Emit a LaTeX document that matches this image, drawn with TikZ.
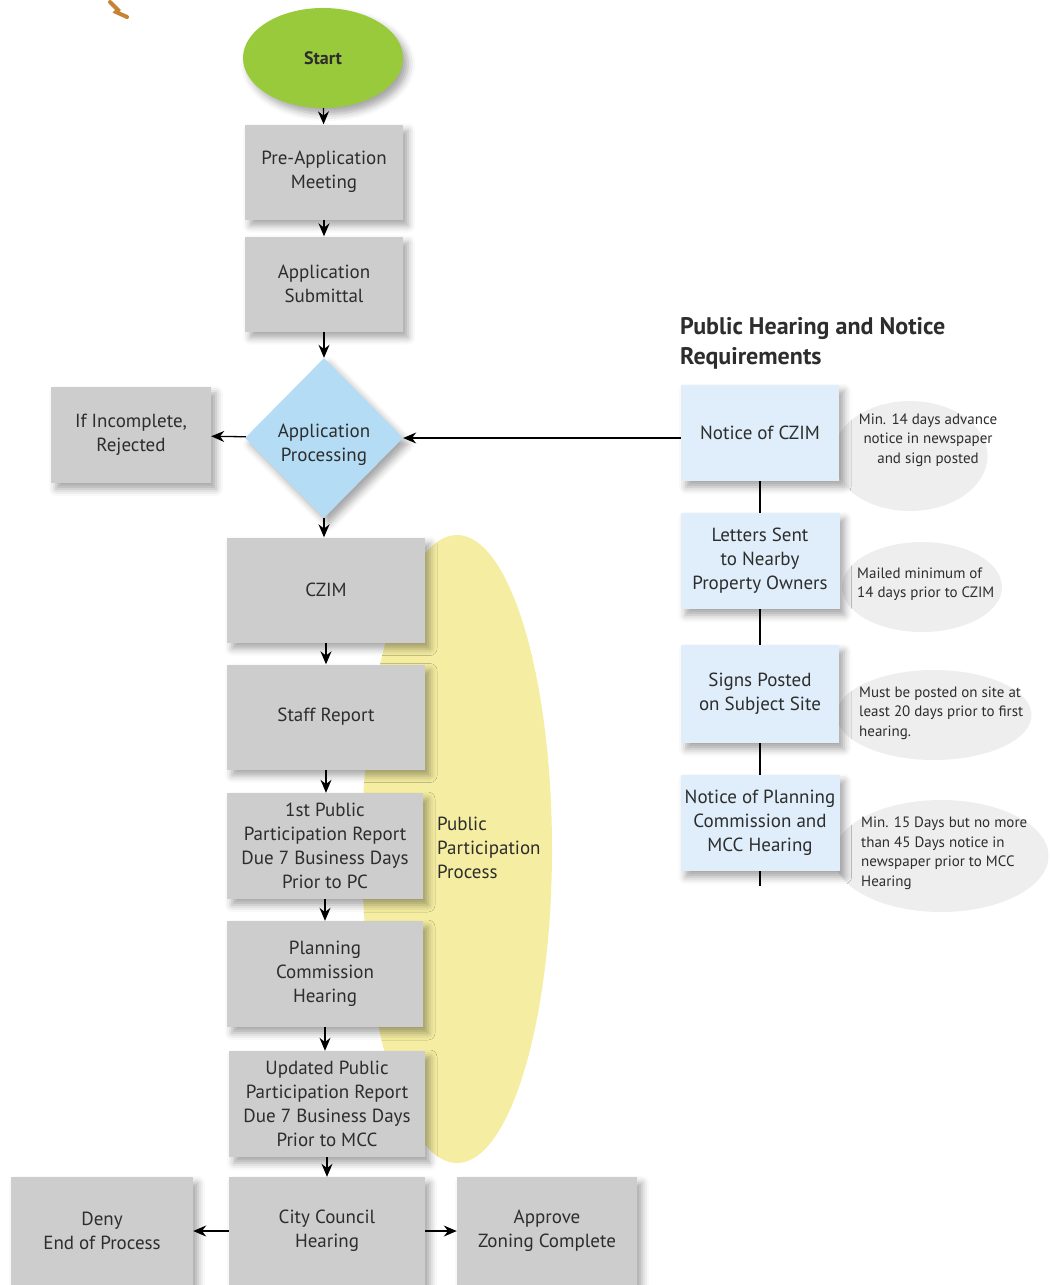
\documentclass[tikz,border=0pt]{standalone}
\usepackage{fontspec}
\setmainfont{PT Sans}
\newfontfamily\notefont{PT Sans}
\usetikzlibrary{arrows.meta,shapes.geometric,shadows.blur}
\definecolor{startgreen}{RGB}{152,202,60}
\definecolor{boxgray}{RGB}{205,205,205}
\definecolor{diamblue}{RGB}{180,221,245}
\definecolor{noteblue}{RGB}{223,238,250}
\definecolor{ppyellow}{RGB}{245,238,162}
\definecolor{notegray}{RGB}{238,238,238}
\definecolor{ink}{RGB}{45,45,45}
\definecolor{squiggle}{RGB}{196,132,52}
\tikzset{>={Stealth[length=13pt,width=11pt]}}

\begin{document}
\begin{tikzpicture}[x=1pt,y=-1pt,
  soft/.style={blur shadow={shadow xshift=5pt,shadow yshift=-6pt,shadow blur radius=7pt,shadow opacity=35}},
  box/.style={soft,fill=boxgray,text=ink,align=center,inner sep=0pt,font=\fontsize{19}{24}\selectfont},
  notebox/.style={soft,fill=noteblue,text=ink,align=center,inner sep=0pt,minimum width=158pt,minimum height=96pt,font=\fontsize{19}{24}\selectfont},
  bubble/.style={ellipse,fill=notegray,inner sep=0pt},
  note/.style={text=ink,font=\notefont\fontsize{15}{19.5}\selectfont,inner sep=0pt},
  arr/.style={-{Stealth[length=13pt,width=11pt]},line width=1.3pt,black},
  link/.style={line width=1.3pt,black}]
\useasboundingbox (0,0) rectangle (1052,1285);

% stray mark at the top
\draw[squiggle,line width=4pt,line cap=round] (110,2) -- (118,10) -- (116,12) -- (127,17);

% yellow band behind the middle boxes
\fill[ppyellow] (457,849) ellipse (95 and 314);
\node[anchor=west,align=left,text=ink,inner sep=0pt,font=\fontsize{19}{24}\selectfont] (ppp) at (437,848) {Public\\Participation\\Process};

% main column
\node[ellipse,soft,fill=startgreen,minimum width=160pt,minimum height=100pt,text=ink,font=\bfseries\fontsize{18}{20}\selectfont] (start) at (323,58) {Start};
\node[box,minimum width=158pt,minimum height=95pt] (pre) at (324,172) {Pre-Application\\Meeting};
\node[box,minimum width=158pt,minimum height=95pt] (sub) at (324,284) {Application\\Submittal};
\node[diamond,soft,fill=diamblue,inner sep=0pt,minimum width=158pt,minimum height=160pt,
  label={[text=ink,align=center,yshift=-7pt,font=\fontsize{19}{24}\selectfont]center:Application\\Processing}] (app) at (324,438) {};
\node[box,minimum width=160pt,minimum height=96pt] (rej) at (131,435) {If Incomplete,\\Rejected};
\node[box,minimum width=198pt,minimum height=105pt] (czim) at (326,590) {CZIM};
\node[box,minimum width=198pt,minimum height=105pt] (staff) at (326,717) {Staff Report};
\node[box,minimum width=196pt,minimum height=106pt] (ppr1) at (325,846) {1st Public\\Participation Report\\Due 7 Business Days\\Prior to PC};
\node[box,minimum width=196pt,minimum height=106pt] (pc) at (325,974) {Planning\\Commission\\Hearing};
\node[box,minimum width=196pt,minimum height=106pt] (ppr2) at (327,1104) {Updated Public\\Participation Report\\Due 7 Business Days\\Prior to MCC};
\node[box,minimum width=196pt,minimum height=108pt] (cch) at (327,1231) {City Council\\Hearing};
\node[box,minimum width=182pt,minimum height=108pt] (deny) at (102,1231) {Deny\\End of Process};
\node[box,minimum width=180pt,minimum height=108pt] (appr) at (547,1231) {Approve\\Zoning Complete};

\draw[arr] (start) -- (pre);
\draw[arr] (pre) -- (sub);
\draw[arr] (sub) -- (app);
\draw[arr] (app) -- (rej);
\draw[arr] (app.south) -- (app.south |- czim.north);
\draw[arr] (czim) -- (staff);
\draw[arr] (staff.south) -- (staff.south |- ppr1.north);
\draw[arr] (ppr1) -- (pc);
\draw[arr] (pc.south) -- (pc.south |- ppr2.north);
\draw[arr] (ppr2) -- (cch);
\draw[arr] (cch.west |- deny) -- (deny);
\draw[arr] (cch.east |- appr) -- (appr);

% notice requirements
\node[anchor=north west,align=left,inner sep=0pt,text=ink,font=\bfseries\fontsize{24}{30}\selectfont] (title) at (680,317) {Public Hearing and Notice\\Requirements};

\node[bubble,minimum width=155pt,minimum height=110pt] (b1) at (910,456) {};
\node[bubble,minimum width=160pt,minimum height=90pt] (b2) at (922,587) {};
\node[bubble,minimum width=195pt,minimum height=90pt] (b3) at (934,715) {};
\node[bubble,minimum width=215pt,minimum height=112pt] (b4) at (941,856) {};

\node[notebox] (ncz) at (760,433) {Notice of CZIM};
\node[notebox,minimum width=159pt] (lts) at (760,561) {Letters Sent\\to Nearby\\Property Owners};
\node[notebox,minimum height=98pt] (sgn) at (760,694) {Signs Posted\\on Subject Site};
\node[notebox,minimum width=159pt] (npc) at (760,823) {Notice of Planning\\Commission and\\MCC Hearing};
\coordinate (tail) at (760,886);

\node[note,align=center] (t1) at (928,440) {Min. 14 days advance\\notice in newspaper\\and sign posted};
\node[note,align=left,anchor=west] (t2) at (857,584) {Mailed minimum of\\14 days prior to CZIM};
\node[note,align=left,anchor=west] (t3) at (859,713) {Must be posted on site at\\least 20 days prior to first\\hearing.};
\node[note,align=left,anchor=west] (t4) at (861,853) {Min. 15 Days but no more\\than 45 Days notice in\\newspaper prior to MCC\\Hearing};

\draw[link] (ncz) -- (lts);
\draw[link] (lts) -- (sgn);
\draw[link] (sgn) -- (npc);
\draw[link] (npc) -- (tail);
\draw[arr] (ncz.west |- app.east) -- (app.east);
\end{tikzpicture}
\end{document}
